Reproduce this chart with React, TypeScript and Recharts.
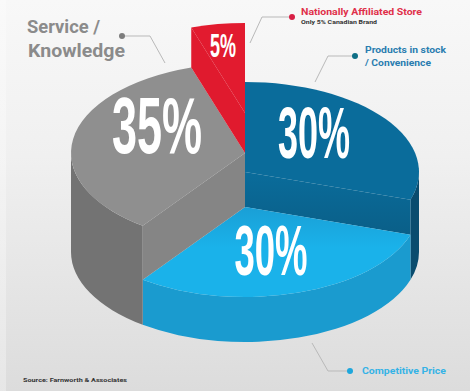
import { PieChart, Pie } from "recharts";

const categories = ["Products in stock / Convenience", "Competitive Price", "Service / Knowledge", "Nationally Affiliated Store"];
const shares = [30, 30, 35, 5];
// how far each slice is raised above the table, in px
const raised = [80, 45, 99, 139];
const topColors = ["#0a6c9b", "url(#lightTop)", "#8f8f8f", "#e21b2f"];
const cutColors = ["url(#blueCut)", "#1a9bcf", "#858585", "#e01a2e"];
const rimColors = ["#0a4c6e", "#1a9bcf", "#737373", "#e01a2e"];
const percentPos = [
  { x: 314, y: 158, w: 72, size: 72 },
  { x: 271, y: 275, w: 73, size: 70 },
  { x: 157, y: 153, w: 90, size: 80 },
  { x: 223, y: 57, w: 26, size: 33 },
];

const pieData = categories.map((name, i) => ({ name, value: shares[i] }));

const WIDTH = 470;
const HEIGHT = 391;
const CX = 245;
const BASE_Y = 252;
const RX = 174;
const RY = 90;
const NARROW = "'Liberation Sans Narrow', 'Liberation Sans', sans-serif";
const SANS = "Roboto, 'Liberation Sans', sans-serif";

const pt = (t: number, lift: number) => {
  const a = (t * Math.PI) / 180;
  return [CX + RX * Math.cos(a), BASE_Y - lift + RY * Math.sin(a)];
};

const topPath = (a: number, b: number, lift: number) => {
  const [x0, y0] = pt(a, lift);
  const [x1, y1] = pt(b, lift);
  const large = b - a > 180 ? 1 : 0;
  return `M${CX},${BASE_Y - lift}L${x0},${y0}A${RX},${RY} 0 ${large} 1 ${x1},${y1}Z`;
};

const rimPath = (a: number, b: number, lift: number) => {
  const [x0, y0] = pt(a, lift);
  const [x1, y1] = pt(b, lift);
  const [x2, y2] = pt(b, 0);
  const [x3, y3] = pt(a, 0);
  return `M${x0},${y0}A${RX},${RY} 0 0 1 ${x1},${y1}L${x2},${y2}A${RX},${RY} 0 0 0 ${x3},${y3}Z`;
};

const cutPath = (t: number, lift: number, lower: number) => {
  const [x0, y0] = pt(t, lift);
  const [x1, y1] = pt(t, lower);
  return `M${CX},${BASE_Y - lift}L${x0},${y0}L${x1},${y1}L${CX},${BASE_Y - lower}Z`;
};

// Recharts hands over angles counter-clockwise from 3 o'clock, the ellipse
// below is walked clockwise on screen, so flip the sign
function SteppedSlice(props: any) {
  const i: number = props.index;
  const a = -props.startAngle;
  const b = -props.endAngle;
  const lift = raised[i];
  const n = raised.length;
  const prevLift = raised[(i + n - 1) % n];
  const nextLift = raised[(i + 1) % n];
  const startSeen = Math.cos((a * Math.PI) / 180) < -1e-6 && prevLift < lift;
  const endSeen = Math.cos((b * Math.PI) / 180) > 1e-6 && nextLift < lift;

  // front part of the outer rim, between 0 and 180 on the ellipse
  let rim: [number, number] | null = null;
  for (const k of [-360, 0, 360]) {
    const lo = Math.max(a, k);
    const hi = Math.min(b, k + 180);
    if (hi > lo) rim = [lo, hi];
  }

  return (
    <g>
      {rim && <path d={rimPath(rim[0], rim[1], lift)} fill={rimColors[i]} />}
      {startSeen && <path d={cutPath(a, lift, prevLift)} fill={cutColors[i]} />}
      {endSeen && <path d={cutPath(b, lift, nextLift)} fill={cutColors[i]} />}
      <path d={topPath(a, b, lift)} fill={topColors[i]} />
    </g>
  );
}

// big white share figures, set in a squeezed bold face
function PercentLabel(props: any) {
  const pos = percentPos[props.index];
  return (
    <text
      x={pos.x}
      y={pos.y}
      textAnchor="middle"
      fill="#ffffff"
      fontFamily={NARROW}
      fontWeight={700}
      fontSize={pos.size}
      textLength={pos.w}
      lengthAdjust="spacingAndGlyphs"
    >
      {`${props.value}%`}
    </text>
  );
}

function Callout({ line, dot, color }: { line: string; dot: number[]; color: string }) {
  return (
    <g>
      <polyline points={line} fill="none" stroke="#b9b9b9" strokeWidth={1} />
      <circle cx={dot[0]} cy={dot[1]} r={3} fill={color} />
    </g>
  );
}

export default function App() {
  return (
    <div
      style={{
        position: "absolute",
        left: 0,
        top: 0,
        width: WIDTH,
        height: HEIGHT,
        background:
          "linear-gradient(90deg, rgba(255,255,255,0.3) 6px, transparent 6px), linear-gradient(180deg, #f8f8f8 0%, #f0f0f0 40%, #dcdcdc 100%)",
      }}
    >
      <PieChart width={WIDTH} height={HEIGHT} margin={{ top: 0, right: 0, bottom: 0, left: 0 }}>
        <defs>
          <linearGradient id="lightTop" x1="0" y1="0" x2="0" y2="1">
            <stop offset="0%" stopColor="#1a9fd6" />
            <stop offset="45%" stopColor="#1ab2ea" />
            <stop offset="100%" stopColor="#1ab2ea" />
          </linearGradient>
          <linearGradient id="blueCut" x1="0" y1="0" x2="0" y2="1">
            <stop offset="0%" stopColor="#0a6c9b" />
            <stop offset="100%" stopColor="#0a5f88" />
          </linearGradient>
        </defs>
        <Pie
          data={pieData}
          dataKey="value"
          nameKey="name"
          cx={CX}
          cy={BASE_Y}
          outerRadius={RX}
          startAngle={90}
          endAngle={-270}
          stroke="none"
          shape={SteppedSlice}
          isAnimationActive={false}
          label={PercentLabel}
          labelLine={false}
        />

        <Callout line="122,36 150,36 165,63" dot={[122, 36]} color="#7d7d7d" />
        <Callout line="292,17 262,17 250,43" dot={[292, 17]} color="#d81f45" />
        <Callout line="355,56 328,56 315,82" dot={[355, 56]} color="#0e6f86" />
        <Callout line="350,371 328,371 312,343" dot={[350, 371]} color="#1ea7dc" />

        <g fontFamily={SANS} fontWeight={700}>
          <text x={27} y={33} fontSize={18} fill="#8b8b8b" textLength={73} lengthAdjust="spacingAndGlyphs">Service /</text>
          <text x={28} y={57} fontSize={18} fill="#8b8b8b" textLength={97} lengthAdjust="spacingAndGlyphs">Knowledge</text>
          <text x={301} y={15} fontSize={8.5} fill="#e0304a" textLength={121} lengthAdjust="spacingAndGlyphs">Nationally Affiliated Store</text>
          <text x={301} y={24} fontSize={6} fill="#333333" textLength={76} lengthAdjust="spacingAndGlyphs">Only 5% Canadian Brand</text>
          <text x={365} y={53} fontSize={8.5} fill="#2a7db0" textLength={81} lengthAdjust="spacingAndGlyphs">Products in stock</text>
          <text x={365} y={66} fontSize={8.5} fill="#2a7db0" textLength={66} lengthAdjust="spacingAndGlyphs">/ Convenience</text>
          <text x={362} y={374} fontSize={8.5} fill="#35b3e6" textLength={84} lengthAdjust="spacingAndGlyphs">Competitive Price</text>
          <text x={23} y={382} fontSize={6} fill="#333333" textLength={104} lengthAdjust="spacingAndGlyphs">Source: Farnworth & Associates</text>
        </g>
      </PieChart>
    </div>
  );
}
